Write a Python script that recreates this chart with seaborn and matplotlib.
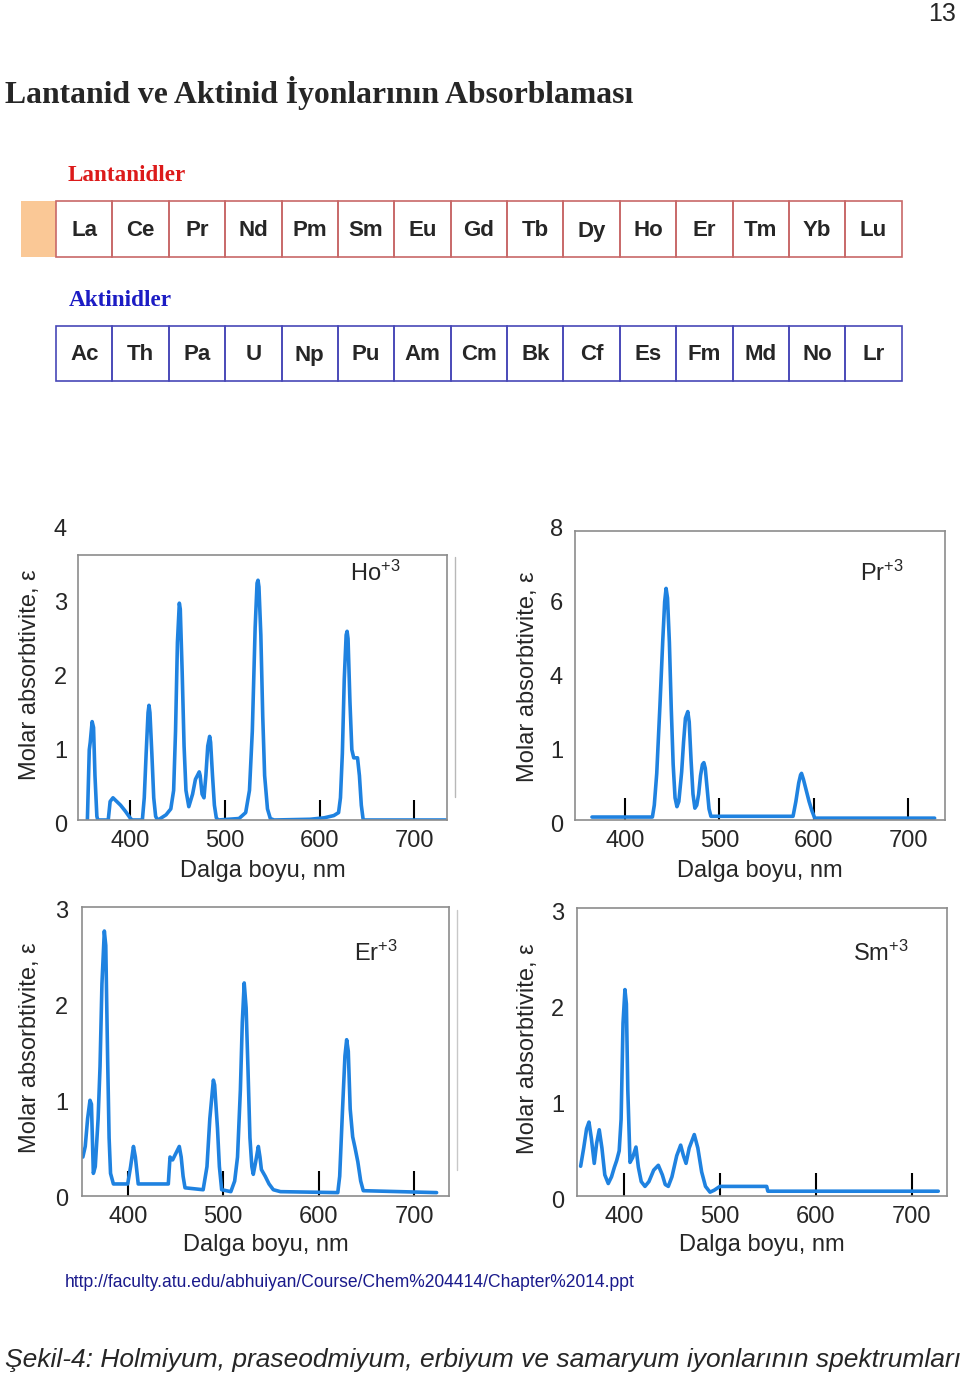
import matplotlib
matplotlib.use("Agg")
import matplotlib.pyplot as plt
import seaborn as sns
from matplotlib.patches import Rectangle
from matplotlib.lines import Line2D
from matplotlib.transforms import Affine2D, ScaledTranslation

# ---------------- data ----------------
lanthanides = ["La", "Ce", "Pr", "Nd", "Pm", "Sm", "Eu", "Gd", "Tb", "Dy", "Ho", "Er", "Tm", "Yb", "Lu"]
actinides = ["Ac", "Th", "Pa", "U", "Np", "Pu", "Am", "Cm", "Bk", "Cf", "Es", "Fm", "Md", "No", "Lr"]

x_ticks = [400, 500, 600, 700]

ho_wl = [355, 357, 358, 360, 361.5, 363, 365, 366,
         377, 379, 382, 386, 390, 395, 400, 402,
         413, 415, 417, 419, 420, 421, 423, 425, 427, 429,
         432, 438, 443, 446, 448, 450, 452, 453, 455, 457, 459, 462,
         466, 469, 471, 473, 474, 476, 478, 480, 482, 484, 485, 487, 489, 491, 493,
         515, 522, 526, 529, 532, 534, 535, 536, 538, 540, 542, 545, 548, 552,
         590, 605, 615, 620, 622, 624, 626, 628, 629, 630, 632, 634, 636, 640, 642, 644, 646, 733]
ho_abs = [0, 0.95, 1.05, 1.33, 1.25, 0.6, 0.05, 0,
          0, 0.25, 0.3, 0.25, 0.2, 0.12, 0.03, 0,
          0, 0.3, 0.9, 1.45, 1.55, 1.45, 0.9, 0.3, 0.05, 0,
          0.02, 0.07, 0.15, 0.4, 1.2, 2.4, 2.93, 2.85, 2.0, 1.0, 0.4, 0.18,
          0.35, 0.55, 0.6, 0.65, 0.6, 0.35, 0.3, 0.6, 1.0, 1.13, 1.05, 0.6, 0.2, 0.03, 0,
          0.02, 0.1, 0.4, 1.2, 2.6, 3.2, 3.24, 3.15, 2.5, 1.4, 0.6, 0.15, 0.02, 0,
          0.01, 0.03, 0.06, 0.1, 0.3, 0.9, 1.9, 2.5, 2.55, 2.45, 1.6, 0.95, 0.84, 0.84, 0.6, 0.2, 0, 0]

pr_wl = [365, 429, 431, 433.6, 437, 440, 442, 443.5, 445, 447, 449, 451, 453, 455,
         457, 460, 462, 464, 466.5, 468, 470, 472, 474,
         476, 478, 480, 482, 483.5, 485, 487, 489, 491,
         578, 581, 584, 586, 587, 589, 592, 595, 598, 601, 728]
pr_abs = [0.08, 0.08, 0.4, 1.26, 3.1, 4.86, 5.9, 6.26, 6.0, 4.8, 3.0, 1.5, 0.6, 0.36,
          0.5, 1.3, 2.1, 2.75, 2.93, 2.65, 1.6, 0.7, 0.32,
          0.4, 0.7, 1.2, 1.5, 1.55, 1.4, 0.85, 0.3, 0.1,
          0.1, 0.5, 1.0, 1.22, 1.26, 1.1, 0.8, 0.5, 0.25, 0.05, 0.05]

er_wl = [353, 355.5, 358, 360.5, 362, 364, 366, 369, 371, 373, 375.5, 377, 379, 380.5, 382,
         385, 400, 403, 406, 408, 411,
         442.5, 444.3, 447, 451, 454, 456, 458, 460,
         479, 483, 486, 489.7, 491, 494, 496, 498.4,
         508, 512, 515, 518, 520, 522, 524, 526, 528, 530, 531.5,
         534, 536.8, 538.5, 540, 544, 548, 552.5, 560,
         620, 622, 625, 627.5, 629.3, 631, 633, 635.6, 638, 641, 644, 646.7, 723.5]
er_abs = [0.40, 0.51, 0.8, 0.99, 0.95, 0.23, 0.3, 0.8, 1.34, 2.2, 2.75, 2.6, 1.4, 0.6, 0.23,
          0.12, 0.12, 0.3, 0.51, 0.4, 0.12,
          0.12, 0.4, 0.37, 0.45, 0.51, 0.4, 0.2, 0.08,
          0.06, 0.3, 0.8, 1.2, 1.15, 0.7, 0.3, 0.06,
          0.04, 0.15, 0.4, 1.1, 1.8, 2.21, 1.95, 1.3, 0.6, 0.3, 0.22,
          0.35, 0.51, 0.4, 0.27, 0.2, 0.12, 0.06, 0.04,
          0.03, 0.2, 0.9, 1.45, 1.62, 1.5, 0.9, 0.61, 0.5, 0.35, 0.15, 0.05, 0.03]

sm_wl = [354.8, 358, 361, 363.5, 366, 369, 371.5, 374.2, 377, 380, 383.6,
         387, 390, 392.4, 395, 397, 399, 401, 402.5, 404, 406.3,
         409, 412.5, 415, 418, 421.9, 426, 431, 435.8, 440, 443, 446.2,
         450, 455, 459.1, 462, 464.7, 468, 473.3, 477, 481, 485, 489.7,
         494, 500, 548.8, 550, 727.7]
sm_abs = [0.31, 0.5, 0.7, 0.77, 0.6, 0.34, 0.55, 0.69, 0.5, 0.22, 0.13,
          0.2, 0.3, 0.37, 0.47, 0.8, 1.8, 2.15, 2.0, 1.1, 0.35,
          0.4, 0.51, 0.3, 0.15, 0.10, 0.15, 0.27, 0.32, 0.22, 0.12, 0.1,
          0.2, 0.42, 0.53, 0.42, 0.34, 0.5, 0.64, 0.5, 0.25, 0.1, 0.04,
          0.06, 0.1, 0.1, 0.05, 0.05]

# ---------------- style ----------------
sns.set_style("white")
plt.rcParams["font.family"] = ["Liberation Sans", "DejaVu Sans"]
plt.rcParams["mathtext.fontset"] = "custom"
plt.rcParams["mathtext.rm"] = "Liberation Sans"
plt.rcParams["mathtext.it"] = "Liberation Sans:italic"
plt.rcParams["mathtext.bf"] = "Liberation Sans:bold"

W, H = 960, 1374
fig = plt.figure(figsize=(W / 100, H / 100), dpi=100)
fig.patch.set_facecolor("white")
PIX = Affine2D().scale(1 / W, -1 / H).translate(0, 1) + fig.transFigure

LINE_COLOR = "#1f82e0"
SPINE_COLOR = "#8c8c8c"
FS = 17


def ptext(x, y, s, **kw):
    return fig.text(x, y, s, transform=PIX, **kw)


def pline(xs, ys, **kw):
    fig.add_artist(Line2D(xs, ys, transform=PIX, **kw))


# ---------------- header ----------------
ptext(956, 21, "13", fontsize=18, ha="right", va="baseline")
title = ptext(5, 103, "Lantanid ve Aktinid İyonlarının Absorblaması",
              fontsize=21, fontweight="bold", family="Liberation Serif", va="baseline")
lan = ptext(68, 181, "Lantanidler", fontsize=17, fontweight="bold",
            family="Liberation Serif", color="#dc1a1a", va="baseline")
akt = ptext(69, 306.5, "Aktinidler", fontsize=17, fontweight="bold",
            family="Liberation Serif", color="#1c1cc4", va="baseline")

cell_w = (901.7 - 56.0) / len(lanthanides)
fig.add_artist(Rectangle((21, 201), 35, 56, transform=PIX, facecolor="#fac896", edgecolor="none"))
for i, el in enumerate(lanthanides):
    x0 = 56.0 + i * cell_w
    fig.add_artist(Rectangle((x0, 201), cell_w, 56, transform=PIX, facecolor="none",
                             edgecolor="#c86868", linewidth=1.2))
    ptext(x0 + cell_w / 2, 236.5, el, fontsize=16, fontweight="bold", ha="center", va="baseline")
for i, el in enumerate(actinides):
    x0 = 56.0 + i * cell_w
    fig.add_artist(Rectangle((x0, 326), cell_w, 55, transform=PIX, facecolor="none",
                             edgecolor="#4848b8", linewidth=1.2))
    ptext(x0 + cell_w / 2, 360.5, el, fontsize=16, fontweight="bold", ha="center", va="baseline")


# ---------------- panels ----------------
def panel(l, r, t, b, xlim, ylim, frame_top, wl, ab, yticks, yticklabels,
          species, sp_xy, tick_len, ypad, ylab_px, xlab_y, ydrop):
    ax = fig.add_axes([l / W, 1 - b / H, (r - l) / W, (b - t) / H])
    ax.patch.set_alpha(0)
    sns.lineplot(x=wl, y=ab, ax=ax, color=LINE_COLOR, linewidth=2.6,
                 estimator=None, sort=False)
    ax.set_xlim(*xlim)
    ax.set_ylim(*ylim)
    for s in ax.spines.values():
        s.set_visible(True)
        s.set_color(SPINE_COLOR)
        s.set_linewidth(1.2)
    if frame_top < ylim[1]:
        ax.spines["top"].set_position(("data", frame_top))
        ax.spines["left"].set_bounds(0, frame_top)
        ax.spines["right"].set_bounds(0, frame_top)
    ax.set_xticks(x_ticks)
    ax.set_xticklabels([str(v) for v in x_ticks])
    ax.set_yticks(yticks)
    ax.set_yticklabels(yticklabels)
    ax.tick_params(axis="x", direction="in", length=tick_len, width=1.5, color="black",
                   labelsize=FS, pad=7.5, bottom=True, top=False)
    ax.tick_params(axis="y", length=0, labelsize=FS, pad=ypad, left=True)
    off = ScaledTranslation(0, -ydrop / 100, fig.dpi_scale_trans)
    for lbl in ax.get_yticklabels():
        lbl.set_transform(lbl.get_transform() + off)
    ax.set_xlabel("Dalga boyu, nm", fontsize=FS)
    ax.set_ylabel("Molar absorbtivite, ε", fontsize=FS)
    ax.xaxis.set_label_coords(0.5, (b - xlab_y) / (b - t))
    ax.xaxis.label.set_verticalalignment("center")
    ax.yaxis.set_label_coords((ylab_px[0] - l) / (r - l), (b - ylab_px[1]) / (b - t))
    ax.yaxis.label.set_verticalalignment("center")
    ptext(sp_xy[0], sp_xy[1], species, fontsize=FS, va="baseline")
    return ax


panel(78, 447, 524, 820, (345.1, 734.4), (0, 4), 3.58, ho_wl, ho_abs,
      [0, 1, 2, 3, 4], ["0", "1", "2", "3", "4"], r"Ho$^{+3}$", (350, 581),
      14.4, 8, (30, 675), 871, 3)
panel(575, 945, 524, 820, (347, 739), (0, 8), 7.81, pr_wl, pr_abs,
      [0, 2, 4, 6, 8], ["0", "1", "4", "6", "8"], r"Pr$^{+3}$", (860, 581),
      16, 8.6, (528, 677), 871, 3)
panel(81.7, 449.3, 907, 1195.5, (351.8, 736.8), (0, 3), 3, er_wl, er_abs,
      [0, 1, 2, 3], ["0", "1", "2", "3"], r"Er$^{+3}$", (354, 961),
      18, 9.8, (30, 1048), 1245, 2)
panel(576.7, 946.7, 908, 1196, (350.7, 736.5), (0, 3), 3, sm_wl, sm_abs,
      [0, 1, 2, 3], ["0", "1", "2", "3"], r"Sm$^{+3}$", (853, 961),
      16.5, 9, (528, 1049), 1245, 3)

# faint secondary frame edges seen in the reference
pline([455, 455], [557, 797], color="#b8b8b8", linewidth=1.0)
pline([456.7, 456.7], [910, 1170], color="#c8c8c8", linewidth=1.0)

# ---------------- footer ----------------
url = ptext(65, 1287, "http://faculty.atu.edu/abhuiyan/Course/Chem%204414/Chapter%2014.ppt",
            fontsize=12.5, color="#1a1a8c", va="baseline")
cap = ptext(5, 1367, "Şekil-4: Holmiyum, praseodmiyum, erbiyum ve samaryum iyonlarının spektrumları",
            fontsize=20, style="italic", family=["Liberation Sans Narrow", "Liberation Sans"],
            va="baseline")

fig.canvas.draw()
renderer = fig.canvas.get_renderer()
for t, target in [(title, 627), (lan, 119), (akt, 104), (url, 572), (cap, 952)]:
    w = t.get_window_extent(renderer).width
    t.set_fontsize(t.get_fontsize() * target / w)

fig.savefig("out.png", dpi=100, facecolor="white")
